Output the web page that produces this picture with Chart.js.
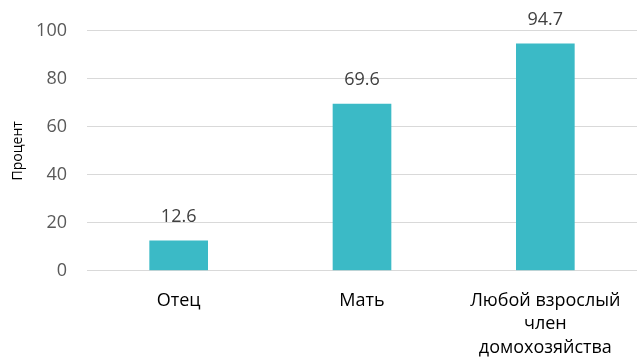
<!DOCTYPE html>
<html>
<head>
<meta charset="utf-8">
<script src="https://cdn.jsdelivr.net/npm/chart.js@4"></script>
<style>
  html, body { margin: 0; padding: 0; background: #fff; }
</style>
</head>
<body>
<canvas id="chart" width="637" height="359"></canvas>
<script>
const categories = [["Отец"], ["Мать"], ["Любой взрослый", "член", "домохозяйства"]];
const values = [12.6, 69.6, 94.7];
const yTicks = [0, 20, 40, 60, 80, 100];

const FONT = "'Open Sans', sans-serif";

/* ---------- VALUE LABELS ---------- */
const valueLabels = {
    id: "valueLabels",
    afterDatasetsDraw(chart) {
        const ctx = chart.ctx;
        const meta = chart.getDatasetMeta(0);
        ctx.save();
        ctx.font = "18px " + FONT;
        ctx.fillStyle = "#404040";
        ctx.textAlign = "center";
        ctx.textBaseline = "middle";
        meta.data.forEach((bar, i) => {
            ctx.fillText(values[i].toFixed(1), bar.x, bar.y - 24);
        });
        ctx.restore();
    }
};

new Chart(document.getElementById("chart"), {
    type: "bar",
    data: {
        labels: categories,
        datasets: [{
            data: values,
            backgroundColor: "#3BBAC6",
            categoryPercentage: 1,
            barPercentage: 0.32
        }]
    },
    options: {
        responsive: false,
        animation: false,
        devicePixelRatio: 1,
        layout: { padding: { top: 24, right: 0, bottom: -11, left: 10 } },
        plugins: { legend: { display: false }, tooltip: { enabled: false } },
        scales: {
            x: {
                grid: { display: false },
                border: { display: false },
                ticks: {
                    color: "#000",
                    font: { family: FONT, size: 18, lineHeight: 1.32 },
                    padding: 10,
                    maxRotation: 0,
                    autoSkip: false
                }
            },
            y: {
                min: 0,
                max: 100,
                afterBuildTicks(axis) {
                    axis.ticks = yTicks.map(v => ({ value: v }));
                },
                afterFit(axis) {
                    axis.width = 77;
                },
                grid: { color: "#D9D9D9", lineWidth: 1, drawTicks: false },
                border: { display: false },
                ticks: {
                    color: "#595959",
                    font: { family: FONT, size: 18 },
                    padding: 20
                },
                title: {
                    display: true,
                    text: "Процент",
                    color: "#000",
                    font: { family: FONT, size: 14 },
                    padding: { top: 0, bottom: 0 }
                }
            }
        }
    },
    plugins: [valueLabels]
});
</script>
</body>
</html>
